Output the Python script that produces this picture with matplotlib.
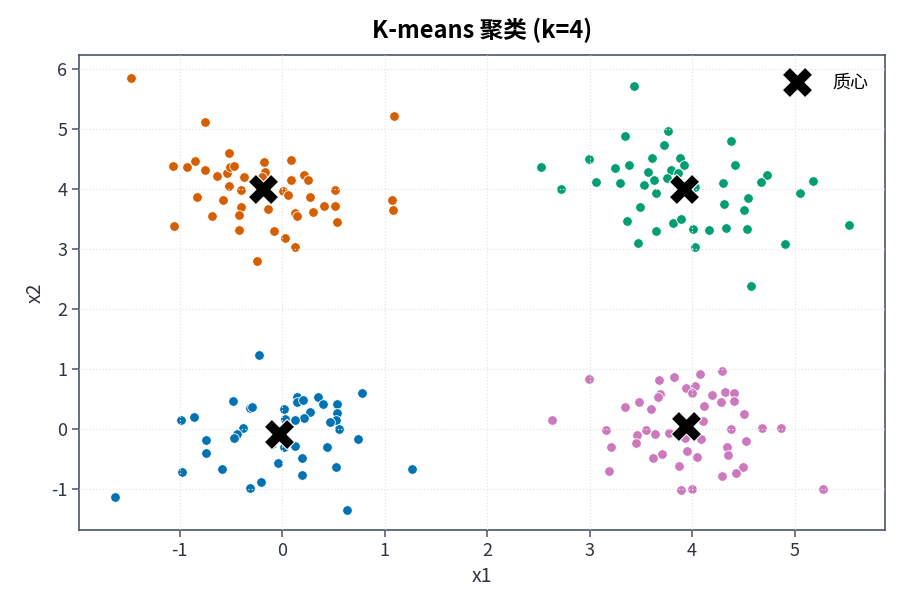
import matplotlib
matplotlib.use('Agg')
import matplotlib.pyplot as plt
import numpy as np

plt.rcParams['font.family'] = ['Noto Sans CJK SC', 'DejaVu Sans']
plt.rcParams['axes.unicode_minus'] = False

# cluster points
c0_x = [-0.224, 0.777, -0.484, -0.315, -0.289, -0.991, -0.858, 0.023, 0.149, 0.143,
        0.208, 0.354, 0.397, 0.533, 0.539, 0.523, 0.465, 0.553, 0.273, 0.214,
        0.123, 0.029, -0.383, -0.442, -0.468, -0.747, -0.738, -0.101, 0.023, 0.123,
        0.198, 0.439, 0.737, -0.045, 0.198, 0.523, 1.27, -0.981, -0.588, -0.205,
        -0.309, 0.634, -1.628]
c0_y = [1.233, 0.611, 0.467, 0.35, 0.367, 0.161, 0.211, 0.339, 0.545, 0.456,
        0.494, 0.545, 0.417, 0.417, 0.272, 0.156, 0.128, 0.006, 0.289, 0.183,
        0.15, 0.167, 0.017, -0.083, -0.144, -0.172, -0.4, -0.239, -0.294, -0.272,
        -0.478, -0.289, -0.156, -0.561, -0.767, -0.622, -0.656, -0.706, -0.656, -0.883,
        -0.978, -1.345, -1.117]

c1_x = [3.437, 3.766, 3.346, 3.726, 4.379, 2.999, 2.524, 3.252, 3.382, 3.609,
        3.886, 3.925, 3.567, 3.791, 3.866, 4.418, 4.734, 4.669, 5.182, 3.755,
        3.626, 3.531, 3.064, 3.298, 2.719, 3.645, 4.025, 4.298, 5.055, 4.542,
        3.496, 4.308, 4.503, 3.363, 3.811, 3.896, 3.652, 4.006, 4.165, 4.334,
        4.532, 5.529, 3.473, 4.028, 4.912, 4.578]
c1_y = [5.722, 4.972, 4.878, 4.733, 4.8, 4.495, 4.367, 4.35, 4.395, 4.522,
        4.512, 4.395, 4.288, 4.322, 4.272, 4.395, 4.233, 4.112, 4.128, 4.178,
        4.145, 4.067, 4.112, 4.095, 4.0, 3.933, 4.028, 4.095, 3.933, 3.855,
        3.695, 3.755, 3.645, 3.467, 3.438, 3.505, 3.295, 3.328, 3.312, 3.355,
        3.328, 3.405, 3.105, 3.033, 3.088, 2.383]

c2_x = [-1.475, -0.757, 1.092, -0.523, -1.065, -0.926, -0.848, -0.757, -0.637, -0.539,
        -0.513, -0.468, -0.374, -0.179, -0.169, -0.192, 0.085, 0.085, 0.214, 0.253,
        -0.52, -0.4, -0.832, -0.578, -0.4, -0.419, -0.682, -1.053, -0.419, -0.14,
        0.01, 0.055, 0.269, 0.517, 0.413, 0.517, 0.539, 0.299, 0.127, 0.149,
        -0.084, 0.029, 0.123, -0.241, 1.075, 1.085]
c2_y = [5.85, 5.12, 5.21, 4.605, 4.378, 4.367, 4.46, 4.317, 4.22, 4.267,
        4.36, 4.39, 4.205, 4.445, 4.29, 4.205, 4.478, 4.155, 4.238, 4.155,
        4.045, 3.983, 3.872, 3.822, 3.7, 3.567, 3.55, 3.39, 3.322, 3.662,
        3.972, 3.9, 3.872, 3.988, 3.722, 3.722, 3.45, 3.612, 3.6, 3.55,
        3.295, 3.183, 3.038, 2.8, 3.822, 3.645]

c3_x = [2.635, 2.999, 3.681, 3.821, 4.074, 4.288, 3.941, 4.028, 3.999, 3.691,
        3.671, 4.194, 4.318, 4.412, 4.279, 4.412, 3.346, 3.486, 3.6, 4.12,
        4.503, 4.11, 3.161, 3.555, 3.46, 3.642, 3.779, 3.928, 4.084, 4.379,
        4.681, 4.867, 3.457, 3.213, 4.522, 4.344, 4.354, 3.95, 4.048, 3.71,
        3.623, 3.869, 4.496, 4.432, 4.288, 3.187, 3.889, 3.999, 5.276]
c3_y = [0.161, 0.844, 0.817, 0.867, 0.928, 0.978, 0.689, 0.728, 0.606, 0.589,
        0.539, 0.578, 0.622, 0.611, 0.461, 0.478, 0.372, 0.45, 0.333, 0.389,
        0.261, 0.144, -0.017, -0.011, -0.094, -0.078, -0.061, -0.15, -0.161, 0.0,
        0.017, 0.017, -0.228, -0.289, -0.189, -0.289, -0.433, -0.361, -0.461, -0.417,
        -0.472, -0.611, -0.622, -0.722, -0.783, -0.7, -1.005, -0.989, -0.989]

centers_x = [-0.03, 3.925, -0.188, 3.944]
centers_y = [-0.08, 3.995, 3.995, 0.05]

colors = ['#0173b2', '#029e73', '#d55e00', '#cc78bc']
clusters = [(c0_x, c0_y), (c1_x, c1_y), (c2_x, c2_y), (c3_x, c3_y)]

ink = '#2e3440'

fig, ax = plt.subplots(figsize=(9, 6.11), dpi=100)
fig.subplots_adjust(left=0.088, right=0.983, top=0.91, bottom=0.132)

for (xs, ys), col in zip(clusters, colors):
    ax.scatter(xs, ys, s=48, c=col, edgecolors='white', linewidths=0.6, zorder=2)

ax.scatter(centers_x, centers_y, s=480, marker='X', c='black',
           edgecolors='white', linewidths=0.8, zorder=3, label='质心')

# grid sits on top of the points in the reference
ax.set_axisbelow(False)
ax.grid(True, color='#e3e6ea', linestyle=':', linewidth=0.9, zorder=4)

ax.set_xlim(-1.98, 5.88)
ax.set_ylim(-1.68, 6.23)
ax.set_xticks([-1, 0, 1, 2, 3, 4, 5])
ax.set_yticks([-1, 0, 1, 2, 3, 4, 5, 6])

for sp in ax.spines.values():
    sp.set_color('#4c566a')
    sp.set_linewidth(1.2)
ax.tick_params(colors='#4c566a', labelcolor=ink, labelsize=13, length=5, width=1.1)

ax.set_xlabel('x1', fontsize=14, color=ink)
ax.set_ylabel('x2', fontsize=14, color=ink)
ax.set_title('K-means 聚类 (k=4)', fontsize=17, fontweight='bold', pad=12)

ax.legend(loc='upper right', bbox_to_anchor=(1.0, 0.996), frameon=False,
          fontsize=13, markerscale=1.0, borderaxespad=0.6, handletextpad=0.94,
          borderpad=0.3)

fig.savefig('out.png', dpi=100)
